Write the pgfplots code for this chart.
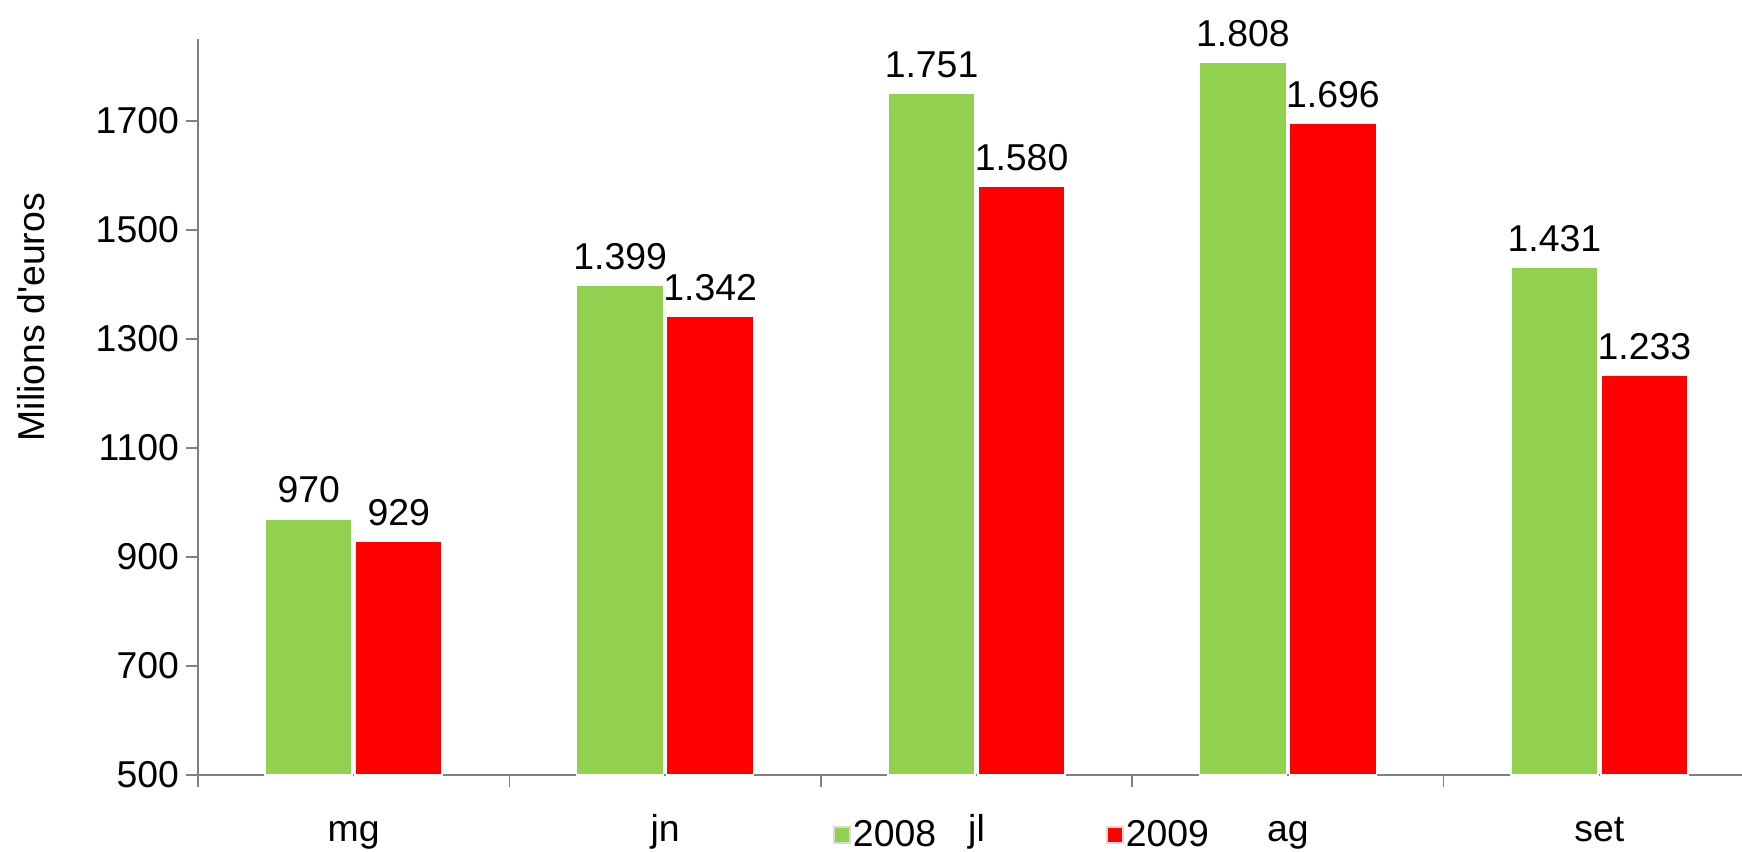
\documentclass[border=0pt]{standalone}
\usepackage{fontspec}
\setmainfont{Liberation Sans}
\usepackage{pgfplots}
\pgfplotsset{compat=1.18}
\definecolor{cgreen}{RGB}{146,208,80}
\definecolor{cred}{RGB}{255,0,0}
\newcommand\f{\fontsize{18.7}{22}\selectfont}
\begin{document}
\begin{tikzpicture}
\begin{axis}[
  at={(99pt,38.5pt)}, anchor=south west,
  scale only axis, width=772pt, height=368pt,
  xmin=-0.5, xmax=4.458, ymin=500, ymax=1850,
  ybar, bar width=43.5pt,
  axis lines=left,
  axis line style={-, draw=gray, line width=0.8pt},
  tick align=outside,
  xtick={0,1,2,3,4}, xticklabels={mg,jn,jl,ag,set},
  minor xtick={-0.5,0.5,1.5,2.5,3.5},
  major x tick style={draw=none},
  minor x tick style={draw=gray, line width=0.8pt},
  minor tick length=6pt, major tick length=6pt,
  major y tick style={draw=gray, line width=0.8pt},
  ytick={500,700,...,1700},
  /pgf/number format/assume math mode=true,
  yticklabel style={font=\f, /pgf/number format/1000 sep={}},
  xticklabel style={font=\f, anchor=base, yshift=-27pt},
  ylabel={Milions d\textquotesingle euros},
  ylabel style={font=\f, at={(axis description cs:-0.0997,0.622)}, anchor=base, rotate=0},
  nodes near coords,
  every node near coord/.append style={font=\f, yshift=4pt, /pgf/number format/fixed, /pgf/number format/1000 sep={.}, /pgf/number format/assume math mode=true},
  legend style={at={(axis cs:1.539,500)}, anchor=west, yshift=-30pt, draw=none, fill=none, inner sep=0pt,
     /tikz/every even column/.append style={column sep=84pt}, nodes={inner sep=1pt}, font=\f},
  legend columns=2,
  legend image code/.code={\draw[#1,draw=gray!30] (0pt,-4pt) rectangle (8pt,4pt);},
  clip=false,
]
\addplot[fill=cgreen, draw=white, line width=0.8pt, bar shift=-22.5pt] coordinates {(0,970) (1,1399) (2,1751) (3,1808) (4,1431)};
\addplot[fill=cred, draw=white, line width=0.8pt, bar shift=22.5pt] coordinates {(0,929) (1,1342) (2,1580) (3,1696) (4,1233)};
\legend{2008,2009}
\end{axis}
\pgfresetboundingbox
\path[use as bounding box] (0,0) rectangle (871pt,426pt);
\end{tikzpicture}
\end{document}
